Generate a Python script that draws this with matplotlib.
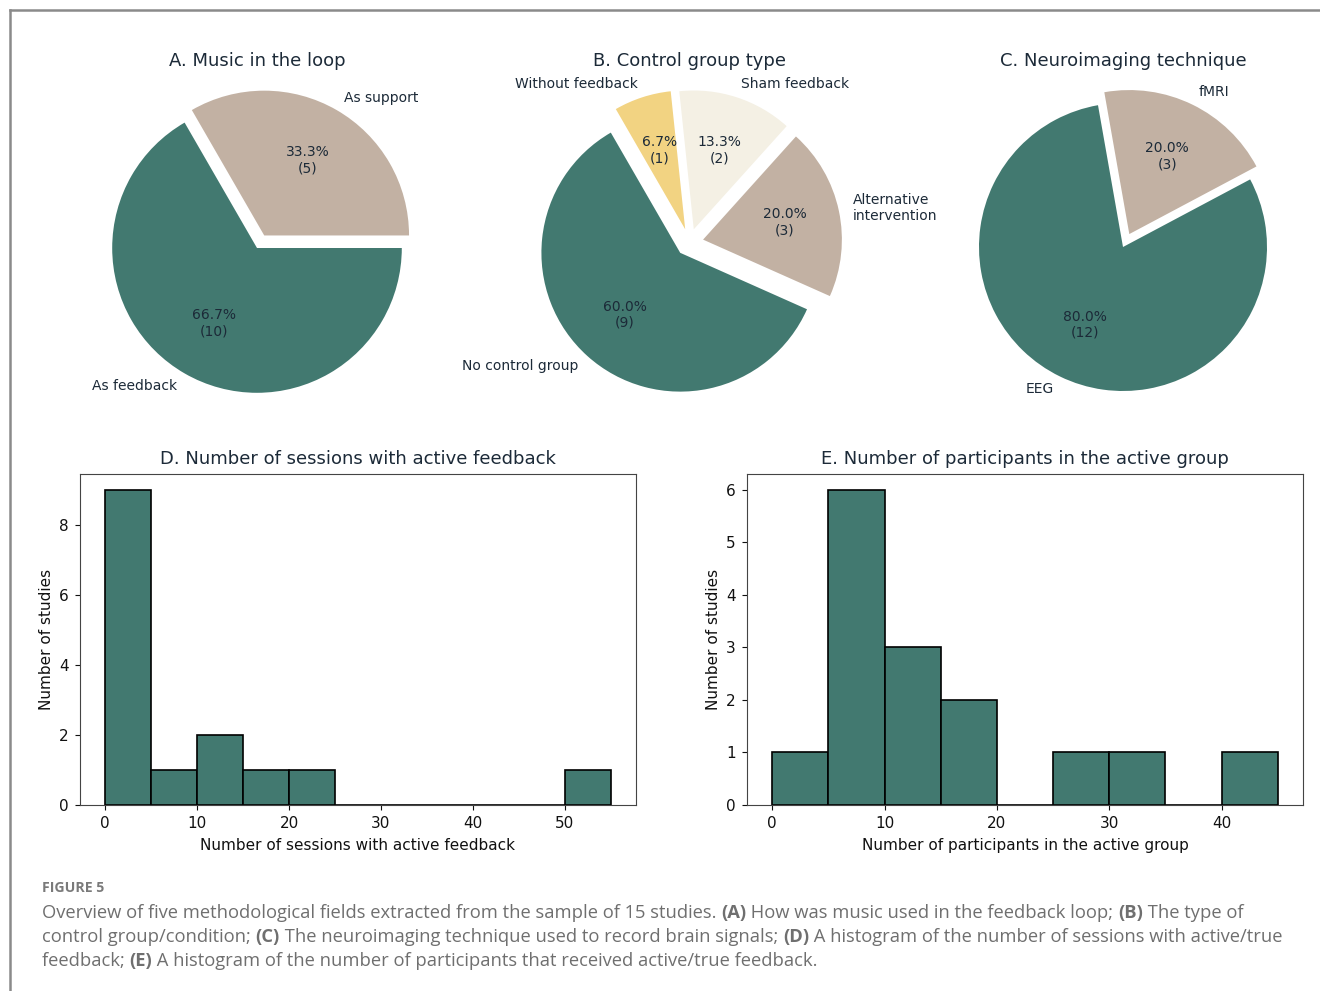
import matplotlib
matplotlib.use('Agg')
import matplotlib.pyplot as plt
from matplotlib.lines import Line2D

# Data
music_labels = ['As support', 'As feedback']
music_counts = [5, 10]

control_labels = ['No control group', 'Alternative\nintervention', 'Sham feedback', 'Without feedback']
control_counts = [9, 3, 2, 1]

imaging_labels = ['EEG', 'fMRI']
imaging_counts = [12, 3]

sessions_edges = [0, 5, 10, 15, 20, 25, 30, 35, 40, 45, 50, 55]
sessions_counts = [9, 1, 2, 1, 1, 0, 0, 0, 0, 0, 1]

participants_edges = [0, 5, 10, 15, 20, 25, 30, 35, 40, 45]
participants_counts = [1, 6, 3, 2, 0, 1, 1, 0, 1]

TEAL = '#427970'
BEIGE = '#C2B1A3'
YELLOW = '#F2D382'
CREAM = '#F4F0E4'
TXT = '#1c2a38'

W, H = 1320, 991
fig = plt.figure(figsize=(W / 100, H / 100), dpi=100)


def px_axes(left, top, right, bottom):
    return fig.add_axes([left / W, 1 - bottom / H, (right - left) / W, (bottom - top) / H])


def autopct_maker(counts):
    total = sum(counts)
    return lambda p: f'{p:.1f}%\n({round(p * total / 100)})'


def draw_pie(ax, counts, labels, colors, explode, start, title, pad):
    ax.pie(counts, labels=labels, colors=colors, explode=explode, startangle=start,
           autopct=autopct_maker(counts), textprops={'fontsize': 10, 'color': TXT})
    ax.set_title(title, fontsize=13, color=TXT, y=1.0, pad=pad)


# Pie charts
ax_a = px_axes(76, 67, 438, 429)
draw_pie(ax_a, music_counts, music_labels, [BEIGE, TEAL], [0.1, 0], 0, 'A. Music in the loop', 0.5)

ax_b = px_axes(516, 69, 863, 416)
draw_pie(ax_b, control_counts, control_labels, [TEAL, BEIGE, CREAM, YELLOW],
         [0.1, 0.1, 0.1, 0.1], 120, 'B. Control group type', 2)

ax_c = px_axes(943, 67, 1303, 427)
draw_pie(ax_c, imaging_counts, imaging_labels, [TEAL, BEIGE], [0, 0.1], 100,
         'C. Neuroimaging technique', 0.5)


# Histograms
def draw_hist(ax, edges, counts, title, xlabel):
    widths = [edges[i + 1] - edges[i] for i in range(len(counts))]
    ax.bar(edges[:-1], counts, width=widths, align='edge', color=TEAL,
           edgecolor='black', linewidth=1.2)
    ax.set_xlim(edges[0] - 0.05 * (edges[-1] - edges[0]), edges[-1] + 0.05 * (edges[-1] - edges[0]))
    ax.set_ylim(0, max(counts) * 1.05)
    ax.set_title(title, fontsize=13, color=TXT, pad=7)
    ax.set_xlabel(xlabel, fontsize=11, color='#111111', labelpad=5)
    ax.set_ylabel('Number of studies', fontsize=11, color='#111111')
    ax.tick_params(labelsize=11, colors='#111111', pad=4.5)
    for s in ax.spines.values():
        s.set_color('#444444')


ax_d = px_axes(80, 474, 636, 805)
draw_hist(ax_d, sessions_edges, sessions_counts, 'D. Number of sessions with active feedback',
          'Number of sessions with active feedback')
ax_d.set_yticks([0, 2, 4, 6, 8])

ax_e = px_axes(747, 474, 1303, 805)
draw_hist(ax_e, participants_edges, participants_counts, 'E. Number of participants in the active group',
          'Number of participants in the active group')
ax_e.set_yticks([0, 1, 2, 3, 4, 5, 6])

# Frame around the figure
fig.add_artist(Line2D([10 / W, 1], [1 - 10 / H, 1 - 10 / H], color='#8a8a8a', lw=1.8))
fig.add_artist(Line2D([10 / W, 10 / W], [0, 1 - 10 / H], color='#8a8a8a', lw=1.8))

# Caption
CAP = '#6f6f6f'
cap_font = ['Open Sans', 'DejaVu Sans']
fig.text(42 / W, 1 - 888 / H, 'FIGURE 5', fontsize=10.2, fontweight='bold', color='#7a7a7a',
         family=cap_font, va='center')

caption_lines = [
    [('Overview of five methodological fields extracted from the sample of 15 studies. ', 'normal'),
     ('(A)', 'bold'), (' How was music used in the feedback loop; ', 'normal'),
     ('(B)', 'bold'), (' The type of', 'normal')],
    [('control group/condition; ', 'normal'), ('(C)', 'bold'),
     (' The neuroimaging technique used to record brain signals; ', 'normal'),
     ('(D)', 'bold'), (' A histogram of the number of sessions with active/true', 'normal')],
    [('feedback; ', 'normal'), ('(E)', 'bold'),
     (' A histogram of the number of participants that received active/true feedback.', 'normal')],
]
renderer = fig.canvas.get_renderer()
for i, line in enumerate(caption_lines):
    x = 42
    y = 913 + i * 24
    for txt, weight in line:
        t = fig.text(x / W, 1 - y / H, txt, fontsize=13.2, fontweight=weight, color=CAP,
                     family=cap_font, va='center')
        x += t.get_window_extent(renderer).width

fig.savefig('out.png', dpi=100)
